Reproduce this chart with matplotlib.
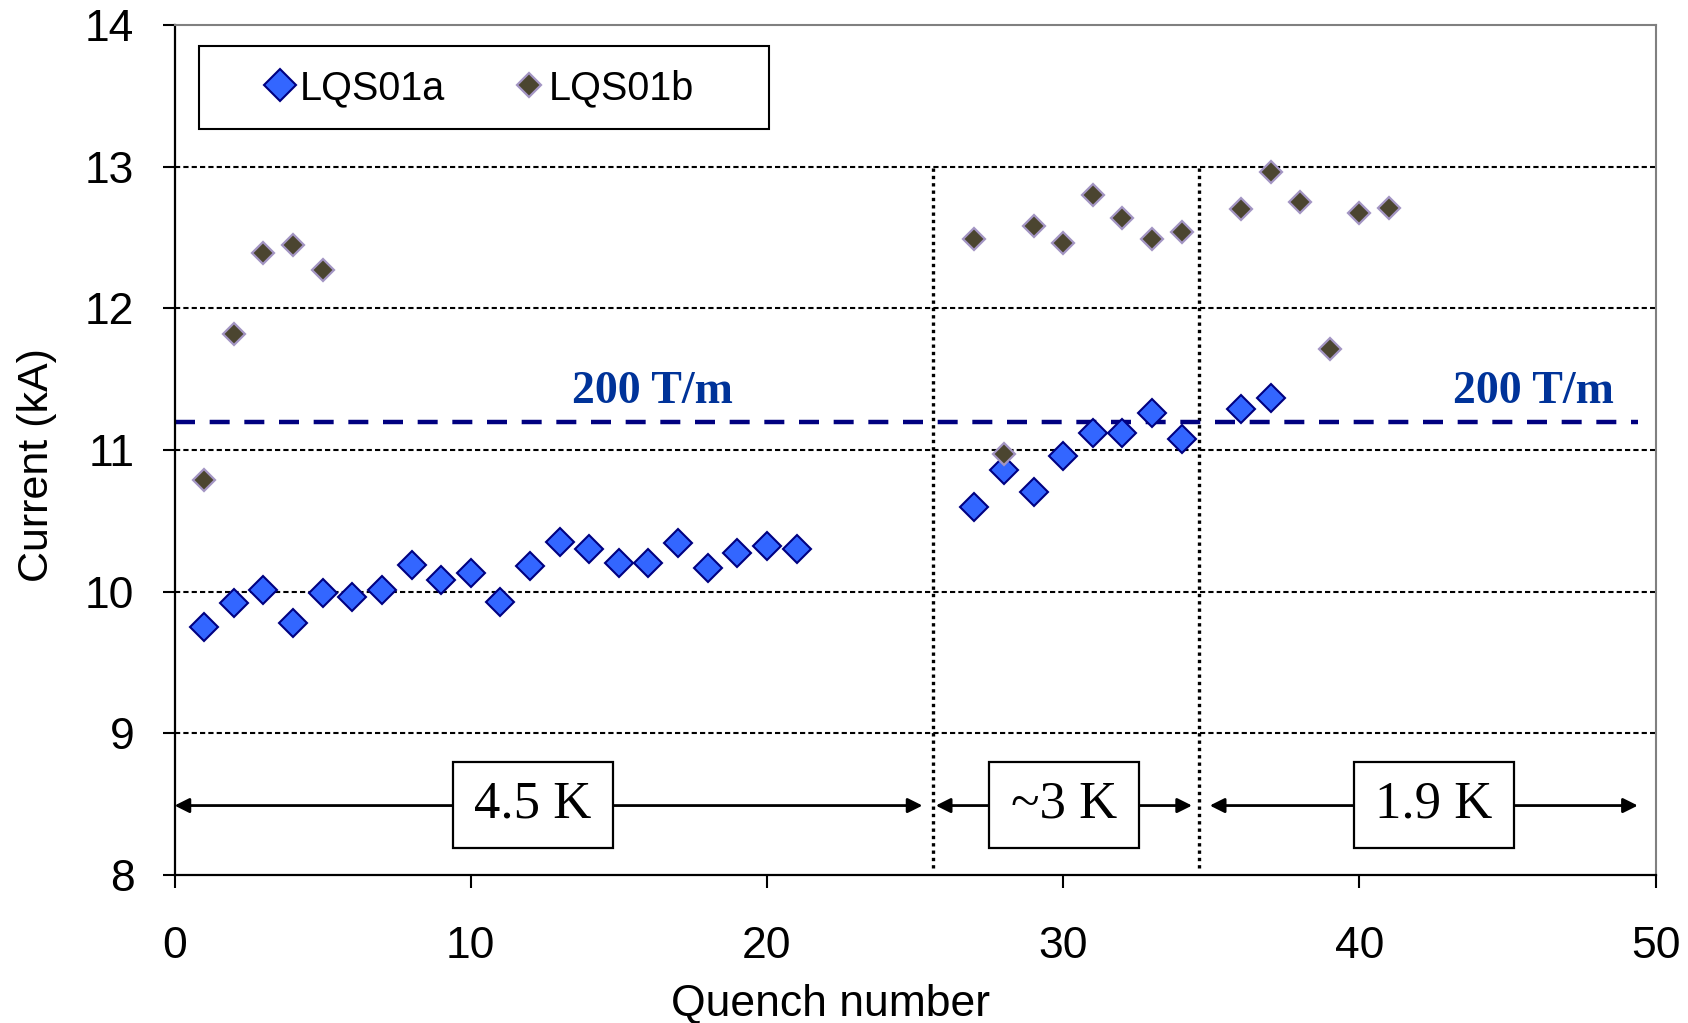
import numpy as np
import matplotlib
matplotlib.use("Agg")
import matplotlib.pyplot as plt
from matplotlib.patches import Rectangle

# LQS01a quench currents (kA)
quench_a = [1, 2, 3, 4, 5, 6, 7, 8, 9, 10, 11, 12, 13, 14, 15, 16, 17, 18, 19, 20, 21,
            27, 28, 29, 30, 31, 32, 33, 34, 36, 37]
current_a = [9.75, 9.92, 10.01, 9.78, 9.99, 9.96, 10.01, 10.19, 10.08, 10.13, 9.93,
             10.18, 10.35, 10.30, 10.20, 10.20, 10.34, 10.17, 10.27, 10.32, 10.30,
             10.60, 10.86, 10.70, 10.96, 11.12, 11.12, 11.26, 11.08, 11.29, 11.37]

# LQS01b quench currents (kA)
quench_b = [1, 2, 3, 4, 5, 27, 28, 29, 30, 31, 32, 33, 34, 36, 37, 38, 39, 40, 41]
current_b = [10.79, 11.82, 12.39, 12.45, 12.27, 12.49, 10.97, 12.58, 12.46, 12.80,
             12.64, 12.49, 12.54, 12.70, 12.96, 12.75, 11.71, 12.67, 12.71]

gradient_current = 11.2          # 200 T/m line
gradient_label = "200 T/m"
boundaries = [25.6, 34.6]        # temperature change between runs
temp_labels = ["4.5 K", "~3 K", "1.9 K"]
temp_spans = [(0, 25.25), (25.7, 34.35), (34.95, 49.4)]

sans = "Liberation Sans"
serif = "Liberation Serif"

fig = plt.figure(figsize=(16.88, 10.23), dpi=100)
ax = fig.add_axes([0.1034, 0.1447, 0.8774, 0.8309])

# grid
for yv in [9, 10, 11, 12, 13]:
    ax.axhline(yv, color="black", lw=1.5, ls=(0, (2.5, 1.5)), zorder=1)

# temperature boundaries
for xb in boundaries:
    ax.plot([xb, xb], [8.05, 13], color="black", lw=2.4, ls=(0, (1, 1.2)), zorder=1)

# 200 T/m line
ax.plot([0, 49.4], [gradient_current, gradient_current], color="#000080", lw=3.2,
        ls=(0, (4.5, 3.3)), zorder=2)
for xt in [16.15, 45.87]:
    ax.text(xt, 11.33, gradient_label, color="#003399", fontsize=33, fontweight="bold",
            family=serif, ha="center", va="baseline", zorder=3)

# data
ax.plot(quench_a, current_a, ls="none", marker="D", ms=14.5, mfc="#3366FF",
        mec="#000080", mew=1.5, label="LQS01a", zorder=4)
ax.plot(quench_b, current_b, ls="none", marker="D", ms=11.5, mfc="#4B4530",
        mec="#A395C3", mew=1.6, label="LQS01b", zorder=5)

# temperature arrows and boxes
box_edges = [(9.39, 14.81), (27.50, 32.56), (39.82, 45.21)]
for (x0, x1), (b0, b1), lab in zip(temp_spans, box_edges, temp_labels):
    ax.annotate("", xy=(x1, 8.49), xytext=(x0, 8.49),
                arrowprops=dict(arrowstyle="<|-|>", color="black", lw=2,
                                mutation_scale=22, shrinkA=0, shrinkB=0), zorder=3)
    ax.add_patch(Rectangle((b0, 8.19), b1 - b0, 0.61, facecolor="white",
                           edgecolor="black", lw=1.6, zorder=6))
    ax.text((b0 + b1) / 2, 8.495, lab, fontsize=38, family=serif, ha="center",
            va="center", zorder=7)

ax.set_xlim(0, 50)
ax.set_ylim(8, 14)
ax.set_xticks([0, 10, 20, 30, 40, 50])
ax.set_yticks([8, 9, 10, 11, 12, 13, 14])
ax.tick_params(direction="out", length=9, width=1.5, labelsize=32, pad=20)
ax.tick_params(axis="x", pad=28)
for lbl in ax.get_xticklabels() + ax.get_yticklabels():
    lbl.set_family(sans)

for side in ["left", "bottom"]:
    ax.spines[side].set_linewidth(1.6)
for side in ["top", "right"]:
    ax.spines[side].set_color("#808080")
    ax.spines[side].set_linewidth(1.5)

ax.set_xlabel("Quench number", fontsize=32, family=sans)
ax.xaxis.label.set_va("center")
ax.xaxis.set_label_coords(0.443, -0.152)
ax.set_ylabel("Current (kA)", fontsize=31, family=sans)
ax.yaxis.label.set_va("center")
ax.yaxis.set_label_coords(-0.093, 0.482)

# legend with separate frame
ax.add_patch(Rectangle((0.0165, 0.878), 0.3847, 0.097, transform=ax.transAxes,
                       facecolor="white", edgecolor="black", lw=1.5, zorder=8))
leg = ax.legend(loc="center left", bbox_to_anchor=(0.0608, 0.926), ncol=2,
                frameon=False, handlelength=0.8, handletextpad=0.1,
                columnspacing=1.7, borderpad=0, borderaxespad=0, markerscale=1.1,
                prop={"family": sans, "size": 28.5})
leg.set_zorder(9)

fig.savefig("out.png", dpi=100)
